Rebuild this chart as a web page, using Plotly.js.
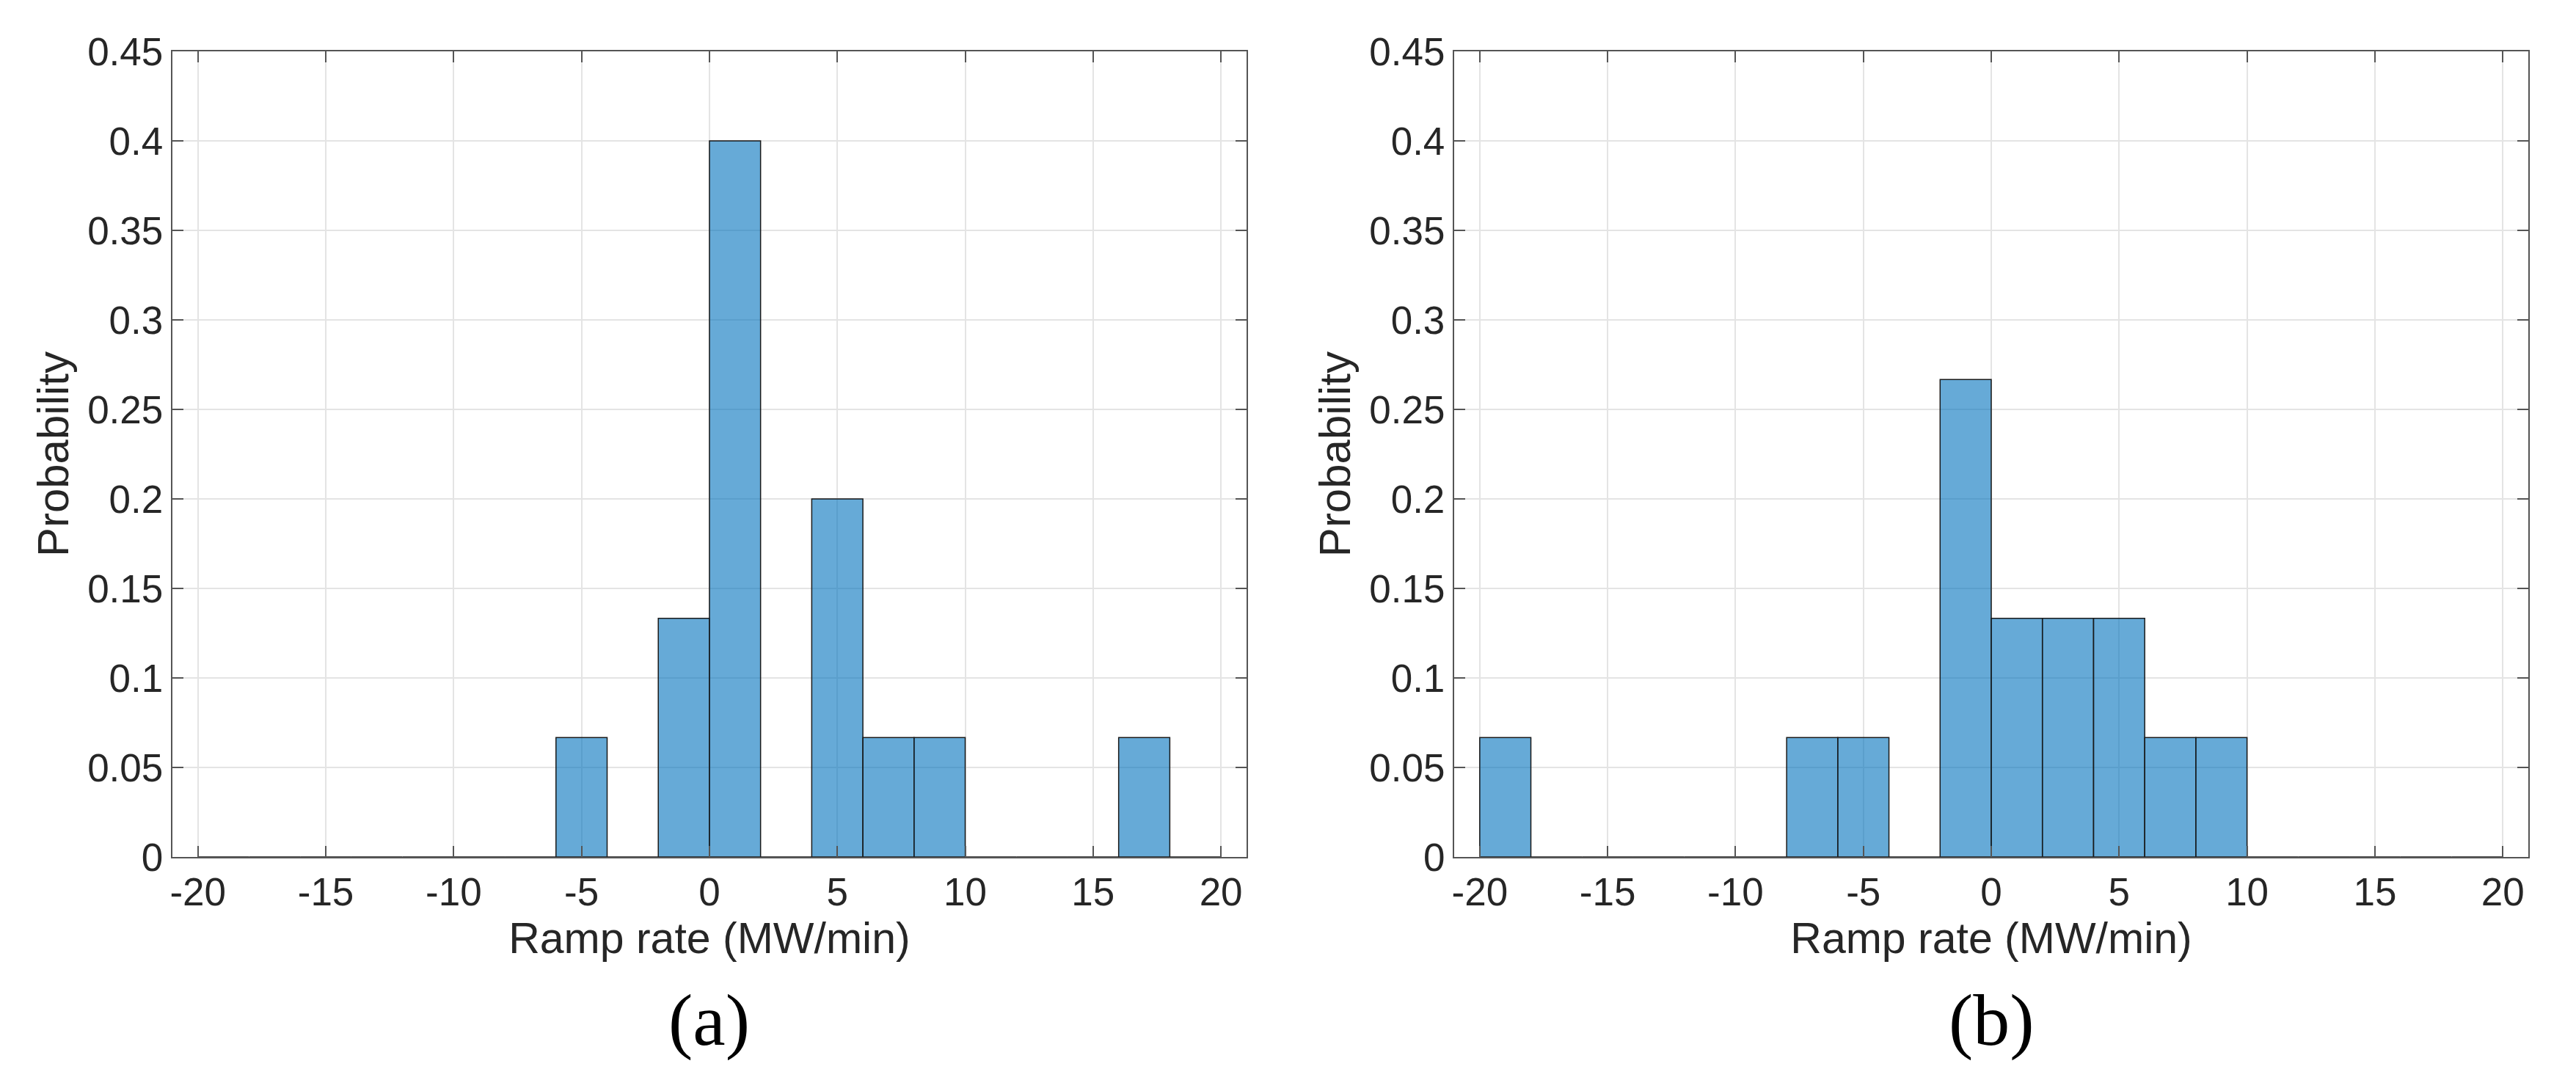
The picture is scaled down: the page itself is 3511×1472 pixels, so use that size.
<!DOCTYPE html>
<html>
<head>
<meta charset="utf-8">
<script src="https://cdn.plot.ly/plotly-3.0.1.min.js"></script>
<style>
  html, body { margin: 0; padding: 0; background: #ffffff; }
  #chart { width: 3511px; height: 1472px; }
</style>
</head>
<body>
<div id="chart"></div>
<script>
// histogram bins, width 2, centres
const binCenters = [-19, -17, -15, -13, -11, -9, -7, -5, -3, -1, 1, 3, 5, 7, 9, 11, 13, 15, 17, 19];
// probability per bin, panel (a)
const probA = [0, 0, 0, 0, 0, 0, 0, 0.0667, 0, 0.1333, 0.4, 0, 0.2, 0.0667, 0.0667, 0, 0, 0, 0.0667, 0];
// probability per bin, panel (b)
const probB = [0.0667, 0, 0, 0, 0, 0, 0.0667, 0.0667, 0, 0.2667, 0.1333, 0.1333, 0.1333, 0.0667, 0.0667, 0, 0, 0, 0, 0];

const xTickVals = [-20, -15, -10, -5, 0, 5, 10, 15, 20];
const xTickText = ["-20", "-15", "-10", "-5", "0", "5", "10", "15", "20"];
const yTickVals = [0, 0.05, 0.1, 0.15, 0.2, 0.25, 0.3, 0.35, 0.4, 0.45];
const yTickText = ["0", "0.05", "0.1", "0.15", "0.2", "0.25", "0.3", "0.35", "0.4", "0.45"];

const xTitle = "Ramp rate (MW/min)";
const yTitle = "Probability";
const panelLabels = ["(a)", "(b)"];

const barColor = "rgba(0, 114, 189, 0.6)";
const textColor = "#262626";
const sansFont = "Liberation Sans, Arial, Helvetica, sans-serif";

function histTrace(values, xa, ya) {
  return {
    type: "bar",
    x: binCenters,
    y: values,
    width: 2,
    xaxis: xa,
    yaxis: ya,
    marker: {
      color: barColor,
      line: { color: "#1a1a1a", width: 1.5 }
    },
    hoverinfo: "x+y",
    showlegend: false
  };
}

function xAxisLayout(domain, anchor) {
  return {
    domain: domain,
    anchor: anchor,
    range: [-21, 21],
    tickmode: "array",
    tickvals: xTickVals,
    ticktext: xTickText,
    ticks: "inside",
    ticklen: 15,
    tickwidth: 2,
    tickcolor: "#555555",
    showline: true,
    linecolor: "#555555",
    linewidth: 2,
    mirror: "ticks",
    showgrid: true,
    gridcolor: "#e4e4e4",
    gridwidth: 2,
    zeroline: false,
    tickfont: { family: sansFont, size: 53, color: textColor },
    title: {
      text: xTitle,
      font: { family: sansFont, size: 59, color: textColor },
      standoff: 14
    }
  };
}

function yAxisLayout(anchor) {
  return {
    domain: [0.2065, 0.9524],
    anchor: anchor,
    range: [0, 0.45],
    tickmode: "array",
    tickvals: yTickVals,
    ticktext: yTickText,
    ticks: "inside",
    ticklen: 15,
    tickwidth: 2,
    tickcolor: "#555555",
    showline: true,
    linecolor: "#555555",
    linewidth: 2,
    mirror: "ticks",
    showgrid: true,
    gridcolor: "#e4e4e4",
    gridwidth: 2,
    zeroline: false,
    tickfont: { family: sansFont, size: 53, color: textColor },
    title: {
      text: yTitle,
      font: { family: sansFont, size: 60, color: textColor },
      standoff: 6
    }
  };
}

const data = [
  histTrace(probA, "x", "y"),
  histTrace(probB, "x2", "y2")
];

const layout = {
  width: 3511,
  height: 1472,
  autosize: false,
  margin: { l: 0, r: 0, t: 0, b: 0 },
  paper_bgcolor: "#ffffff",
  plot_bgcolor: "#ffffff",
  bargap: 0,
  xaxis: xAxisLayout([0.0669, 0.4839], "y"),
  yaxis: yAxisLayout("x"),
  xaxis2: xAxisLayout([0.5645, 0.9815], "y2"),
  yaxis2: yAxisLayout("x2"),
  annotations: [
    {
      text: panelLabels[0],
      xref: "paper", yref: "paper",
      x: (0.0669 + 0.4839) / 2, y: 1 - 1390 / 1472,
      xanchor: "center", yanchor: "middle",
      showarrow: false,
      font: { family: "Liberation Serif, Times New Roman, serif", size: 100, color: "#000000" }
    },
    {
      text: panelLabels[1],
      xref: "paper", yref: "paper",
      x: (0.5645 + 0.9815) / 2, y: 1 - 1390 / 1472,
      xanchor: "center", yanchor: "middle",
      showarrow: false,
      font: { family: "Liberation Serif, Times New Roman, serif", size: 100, color: "#000000" }
    }
  ]
};

Plotly.newPlot("chart", data, layout, { staticPlot: true, displayModeBar: false });
</script>
</body>
</html>
